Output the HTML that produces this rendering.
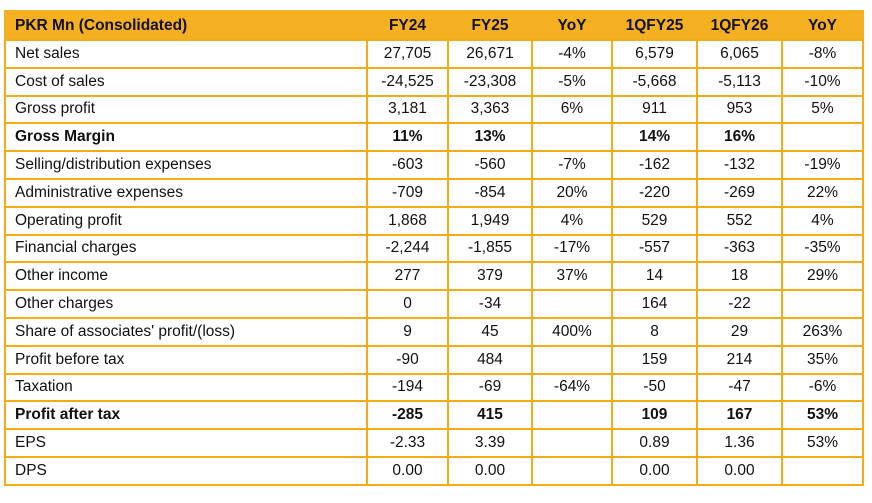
<!DOCTYPE html>
<html><head><style>
body{margin:0;background:#fff;width:872px;height:503px;overflow:hidden}
table{position:absolute;left:4px;top:10px;border-collapse:collapse;table-layout:fixed;font-family:"Liberation Sans",sans-serif;font-size:15.5px;color:#111}
td{border:2px solid #F5AC12;height:25.8px;padding:0;text-align:center;white-space:nowrap}
td:first-child{text-align:left;padding-left:9px}
tr.h td{background:#F5B021;font-weight:bold;height:27px;border-color:#F5B021;border-bottom-color:#F5AC12}
tr.b td{font-weight:bold}
</style></head><body>
<table>
<colgroup><col style="width:362px"><col style="width:81px"><col style="width:84px"><col style="width:80px"><col style="width:85px"><col style="width:85px"><col style="width:81px"></colgroup>
<tr class="h"><td>PKR Mn (Consolidated)</td><td>FY24</td><td>FY25</td><td>YoY</td><td>1QFY25</td><td>1QFY26</td><td>YoY</td></tr>
<tr><td>Net sales</td><td>27,705</td><td>26,671</td><td>-4%</td><td>6,579</td><td>6,065</td><td>-8%</td></tr>
<tr><td>Cost of sales</td><td>-24,525</td><td>-23,308</td><td>-5%</td><td>-5,668</td><td>-5,113</td><td>-10%</td></tr>
<tr><td>Gross profit</td><td>3,181</td><td>3,363</td><td>6%</td><td>911</td><td>953</td><td>5%</td></tr>
<tr class="b"><td>Gross Margin</td><td>11%</td><td>13%</td><td></td><td>14%</td><td>16%</td><td></td></tr>
<tr><td>Selling/distribution expenses</td><td>-603</td><td>-560</td><td>-7%</td><td>-162</td><td>-132</td><td>-19%</td></tr>
<tr><td>Administrative expenses</td><td>-709</td><td>-854</td><td>20%</td><td>-220</td><td>-269</td><td>22%</td></tr>
<tr><td>Operating profit</td><td>1,868</td><td>1,949</td><td>4%</td><td>529</td><td>552</td><td>4%</td></tr>
<tr><td>Financial charges</td><td>-2,244</td><td>-1,855</td><td>-17%</td><td>-557</td><td>-363</td><td>-35%</td></tr>
<tr><td>Other income</td><td>277</td><td>379</td><td>37%</td><td>14</td><td>18</td><td>29%</td></tr>
<tr><td>Other charges</td><td>0</td><td>-34</td><td></td><td>164</td><td>-22</td><td></td></tr>
<tr><td>Share of associates' profit/(loss)</td><td>9</td><td>45</td><td>400%</td><td>8</td><td>29</td><td>263%</td></tr>
<tr><td>Profit before tax</td><td>-90</td><td>484</td><td></td><td>159</td><td>214</td><td>35%</td></tr>
<tr><td>Taxation</td><td>-194</td><td>-69</td><td>-64%</td><td>-50</td><td>-47</td><td>-6%</td></tr>
<tr class="b"><td>Profit after tax</td><td>-285</td><td>415</td><td></td><td>109</td><td>167</td><td>53%</td></tr>
<tr><td>EPS</td><td>-2.33</td><td>3.39</td><td></td><td>0.89</td><td>1.36</td><td>53%</td></tr>
<tr><td>DPS</td><td>0.00</td><td>0.00</td><td></td><td>0.00</td><td>0.00</td><td></td></tr>
</table>
</body></html>
